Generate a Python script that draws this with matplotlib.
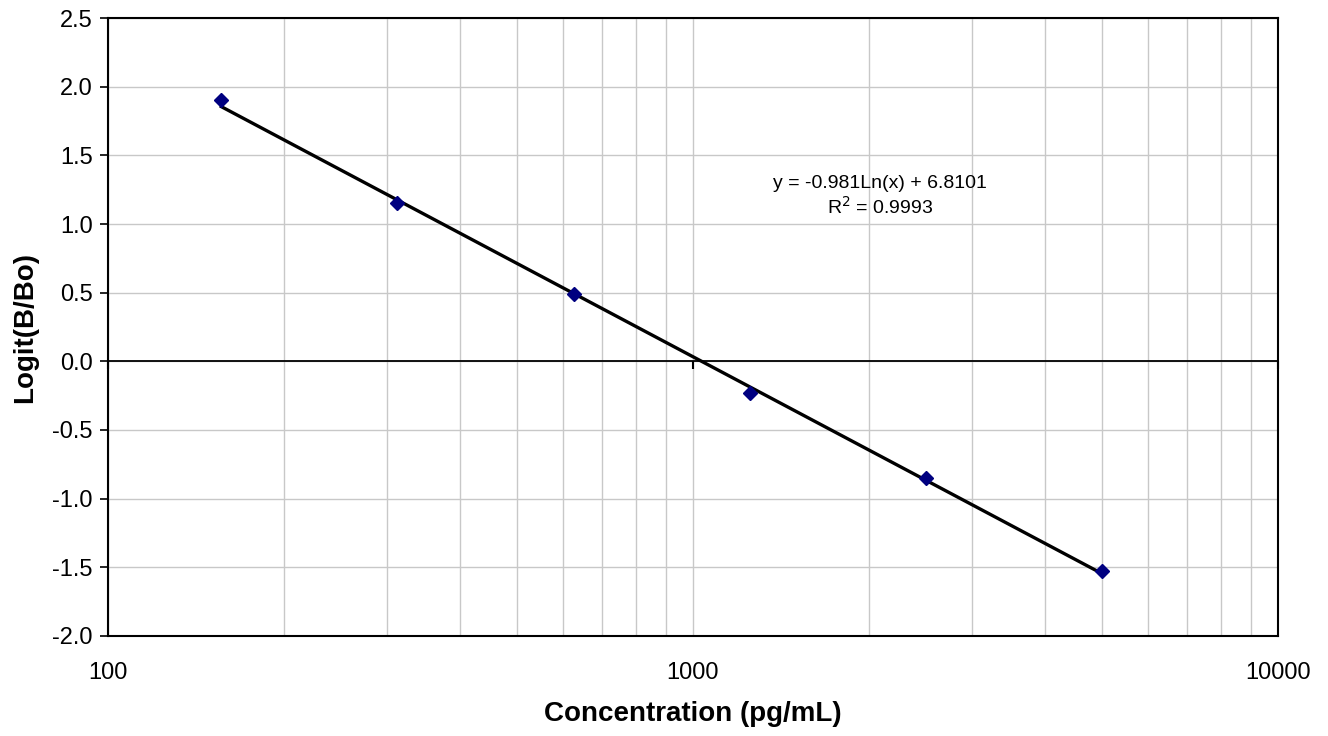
import numpy as np
import matplotlib.pyplot as plt
from matplotlib.ticker import FixedLocator, LogLocator, NullFormatter

plt.rc('font', family=['Liberation Sans', 'DejaVu Sans'])

# standards
conc = [156.25, 312.5, 625, 1250, 2500, 5000]
logit = [1.90, 1.15, 0.49, -0.23, -0.85, -1.53]

# log fit given on the chart
slope = -0.981
intercept = 6.8101
r2 = 0.9993

fig = plt.figure(figsize=(13.28, 7.36), dpi=100)
ax = fig.add_axes([0.0813, 0.1359, 0.8810, 0.8396])

ax.set_xscale('log')
ax.set_xlim(100, 10000)
ax.set_ylim(-2.0, 2.5)

# grid
ax.xaxis.set_major_locator(FixedLocator([100, 1000, 10000]))
ax.xaxis.set_minor_locator(LogLocator(base=10, subs=np.arange(2, 10)))
ax.xaxis.set_minor_formatter(NullFormatter())
ax.set_xticklabels(['100', '1000', '10000'])
ax.set_yticks(np.arange(-2.0, 2.51, 0.5))
ax.set_yticklabels(['%.1f' % v for v in np.arange(-2.0, 2.51, 0.5)])
ax.grid(True, which='both', color='#c8c8c8', linewidth=1)
ax.set_axisbelow(True)

ax.tick_params(axis='x', which='both', length=0, pad=19, labelsize=17)
ax.tick_params(axis='y', length=6, width=1.2, direction='out', labelsize=17, pad=5)

for s in ax.spines.values():
    s.set_linewidth(1.5)
    s.set_color('black')

# zero line with small tick marks, like Excel's crossing axis
ax.axhline(0, color='black', linewidth=1.3)
ax.plot([100, 1000, 10000], [0, 0, 0], linestyle='none', marker=3,
        markersize=6, markeredgewidth=1.5, color='black', clip_on=False)

# trend line
xs = np.geomspace(min(conc), max(conc), 50)
ax.plot(xs, slope * np.log(xs) + intercept, color='black', linewidth=2.4, zorder=3)

ax.plot(conc, logit, linestyle='none', marker='D', markersize=7,
        color='#000080', zorder=4)

ax.text(2090, 1.2, 'y = %.3fLn(x) + %.4f\nR$^2$ = %.4f' % (slope, intercept, r2),
        ha='center', va='center', fontsize=14, linespacing=1.25)

ax.set_xlabel('Concentration (pg/mL)', fontsize=20, fontweight='bold', labelpad=12)
ax.set_ylabel('Logit(B/Bo)', fontsize=20, fontweight='bold', labelpad=10)

fig.savefig('out.png', dpi=100)
